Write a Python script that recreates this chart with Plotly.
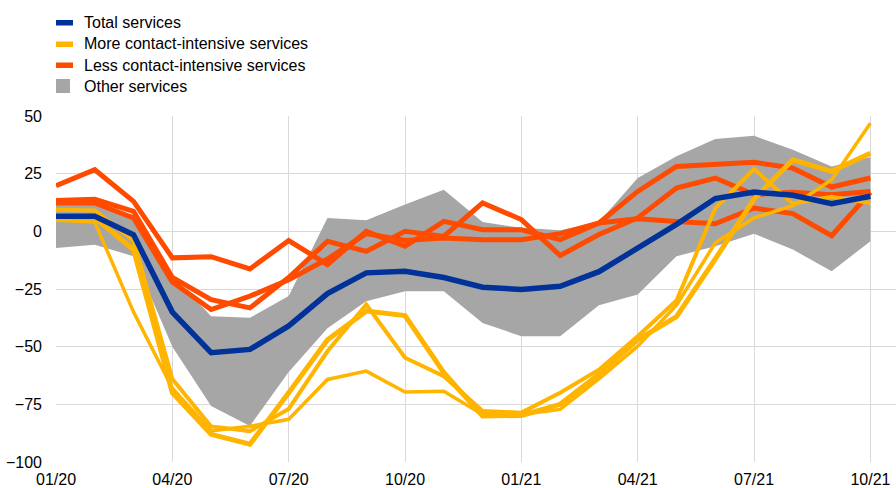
import plotly.graph_objects as go

# Monthly observations, January 2020 to October 2021
months = ["01/20", "02/20", "03/20", "04/20", "05/20", "06/20", "07/20", "08/20",
          "09/20", "10/20", "11/20", "12/20", "01/21", "02/21", "03/21", "04/21",
          "05/21", "06/21", "07/21", "08/21", "09/21", "10/21"]
tick_months = ["01/20", "04/20", "07/20", "10/20", "01/21", "04/21", "07/21", "10/21"]
y_ticks = [-100, -75, -50, -25, 0, 25, 50]

series_names = ["Total services", "More contact-intensive services",
                "Less contact-intensive services", "Other services"]

total = [6.5, 6.5, -1.5, -35, -52.6, -51.2, -41, -27, -18, -17.3, -20, -24.2,
         -25.2, -23.8, -17.5, -7.2, 3, 14.2, 17, 15.6, 12, 15.2]

other_low = [-7.2, -5.8, -10.8, -50, -75.7, -84.4, -61, -42, -30.3, -26, -26, -39.7,
             -45.5, -45.5, -32, -27.4, -10.8, -6.5, -1, -7.9, -17.3, -4.3]
other_high = [12, 12, 7, -19, -36.8, -37.5, -28, 5.8, 4.8, 11.6, 18, 4,
              1.5, 0.5, 4, 23.1, 32.5, 40, 41.4, 35.4, 28.1, 32.2]

less_a = [19.8, 26.7, 13, -11.5, -11, -16.3, -4, -14.4, 0, -6.5, 4.3, 0.7,
          0.7, -3.6, 3.6, 17.3, 28.1, 29.2, 29.9, 27.4, 19.2, 23.1]
less_b = [13.4, 13.9, 8.7, -20, -29.6, -33.2, -20, -4.3, -8.7, 0, -2.2, 12.3,
          5.1, -10.5, -1.4, 5.8, 18.8, 23.1, 16, 16.9, 15.9, 17.3]
less_c = [12.3, 12.3, 5.8, -22, -33.9, -28.1, -21, -12, -1, -4, -2.9, -3.6,
          -3.6, -1, 3.6, 5.4, 4.3, 3.3, 10.1, 7.7, -1.9, 16.9]

more_a = [4.8, 4, -35, -68, -86.5, -84.5, -81.5, -64.2, -60.6, -69.7, -69.3, -79.4,
          -79.4, -77.2, -64, -49.8, -32, -5, 5.8, 11.1, 22.4, 46.9]
more_b = [9.4, 9, -4, -64, -84.6, -86.6, -77, -52, -31.7, -54.8, -62.8, -77.9,
          -78.6, -70, -60, -45.5, -30, 10, 27, 12, 15, 12.3]
more_c = [7, 6, -8, -70, -88, -92.3, -70, -47, -34.6, -36.5, -61.3, -80.1,
          -79.8, -75, -62, -47, -37, -12, 14, 31, 26, 33.9]

BLUE = "#003299"
YELLOW = "#FFB400"
ORANGE = "#FF4B00"
GREY = "#A6A6A6"
GRID = "#D9D9D9"
FONT = "Liberation Sans, Arial, sans-serif"

fig = go.Figure()

# Range of other services as a shaded band
fig.add_trace(go.Scatter(x=months, y=other_low, mode="lines",
                         line=dict(width=0, color=GREY), hoverinfo="skip"))
fig.add_trace(go.Scatter(x=months, y=other_high, mode="lines", fill="tonexty",
                         fillcolor=GREY, line=dict(width=0, color=GREY),
                         name=series_names[3]))

for ys in (less_a, less_b, less_c):
    fig.add_trace(go.Scatter(x=months, y=ys, mode="lines",
                             line=dict(color=ORANGE, width=5), name=series_names[2]))

for ys, w in ((more_a, 3.5), (more_b, 4), (more_c, 5)):
    fig.add_trace(go.Scatter(x=months, y=ys, mode="lines",
                             line=dict(color=YELLOW, width=w), name=series_names[1]))

fig.add_trace(go.Scatter(x=months, y=total, mode="lines",
                         line=dict(color=BLUE, width=5.5), name=series_names[0]))

# Plot area in pixels: x 56..896, y 116..462
L, R, T, B = 56, 896, 116, 462
W, H = 896, 488


def px(xp):
    return (xp - L) / (R - L)


def py(yp):
    return (B - yp) / (B - T)


# Legend drawn above the plot area
swatches = [
    (series_names[0], BLUE, 20, 25.5, 73),
    (series_names[1], YELLOW, 41.5, 47, 73),
    (series_names[2], ORANGE, 62.5, 68, 73),
    (series_names[3], GREY, 79, 93, 70),
]
text_y = [22.5, 43.5, 65, 86]
for (label, col, y0, y1, x1), ty in zip(swatches, text_y):
    fig.add_shape(type="rect", xref="paper", yref="paper",
                  x0=px(56), x1=px(x1), y0=py(y1), y1=py(y0),
                  fillcolor=col, line=dict(width=0))
    fig.add_annotation(xref="paper", yref="paper", x=px(81.5), y=py(ty),
                       text=label, showarrow=False, xanchor="left", yanchor="middle",
                       font=dict(family=FONT, size=16, color="#000000"))

fig.update_layout(
    width=W, height=H,
    margin=dict(l=L, r=W - R, t=T, b=H - B, autoexpand=False),
    paper_bgcolor="white", plot_bgcolor="white",
    showlegend=False,
    font=dict(family=FONT, size=16, color="#000000"),
)
fig.update_xaxes(type="category", categoryorder="array", categoryarray=months,
                 range=[0, 21.66], tickmode="array", tickvals=tick_months,
                 ticktext=tick_months, showgrid=True, gridcolor=GRID, gridwidth=1,
                 zeroline=False, showline=False, ticks="", ticklabelstandoff=6,
                 automargin=False)
fig.update_yaxes(range=[-100, 50], tickmode="array", tickvals=y_ticks,
                 showgrid=True, gridcolor=GRID, gridwidth=1,
                 zeroline=False, showline=False, ticks="", ticklabelstandoff=13,
                 automargin=False)

fig.write_html("out.html")
